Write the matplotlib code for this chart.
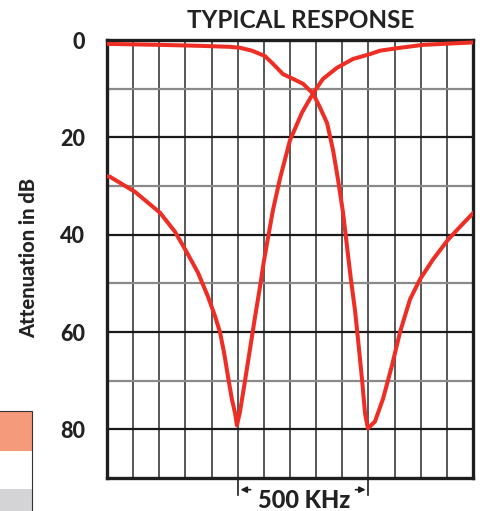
import matplotlib.pyplot as plt
from matplotlib.patches import Rectangle

# frequency in kHz (100 kHz per grid division), attenuation in dB
low_khz = [0, 11, 107, 203, 260, 306, 348, 386, 413, 432, 448, 463, 478,
           490, 497, 509, 528, 547, 566, 585, 600, 616, 635, 662, 700, 746,
           788, 826, 880, 941, 1006, 1044, 1121, 1209, 1400]
low_db = [28.0, 28.1, 31.2, 35.5, 39.4, 43.7, 47.8, 52.7, 56.7, 60, 64.3,
          69.2, 73.9, 76.7, 79.2, 76.3, 70, 63.5, 57, 50.8, 45.5, 40.6,
          34.9, 28.4, 20.6, 14.9, 11, 8, 5.7, 3.9, 2.9, 2.2, 1.6, 1.0, 0.5]

high_khz = [0, 203, 356, 470, 509, 555, 604, 635, 673, 712, 750, 788, 815,
            842, 865, 884, 903, 918, 933, 949, 960, 976, 987, 998, 1025,
            1056, 1090, 1121, 1159, 1197, 1247, 1305, 1350, 1400]
high_db = [0.8, 1.0, 1.2, 1.4, 1.6, 2.2, 3.3, 4.9, 7, 8, 9, 11, 13.9, 17.1,
           22.7, 28.8, 35.5, 42.4, 49.2, 55.7, 61.4, 70, 76.7, 79.8, 78.4,
           73.7, 66.9, 60, 53.3, 49.2, 45.1, 41, 38.4, 35.6]

db_ticks = [0, 20, 40, 60, 80]
span_start = 500
span_end = 1000

RED = "#ee2e24"
FONT = "Lato"

fig = plt.figure(figsize=(4.8, 5.11), dpi=100)
ax = fig.add_axes([107 / 480, 1 - 478 / 511, 366 / 480, 438 / 511])

# grid
for x in range(100, 1400, 100):
    ax.axvline(x, color="#2a2a2a", lw=1.1, zorder=1)
for y in range(10, 90, 10):
    if y % 20 == 0:
        ax.axhline(y, color="#1a1a1a", lw=1.6, zorder=1)
    else:
        ax.axhline(y, color="#8a8a8a", lw=1.6, zorder=1)

ax.plot(low_khz, low_db, color=RED, lw=2.9, solid_joinstyle="round",
        zorder=3)
ax.plot(high_khz, high_db, color=RED, lw=2.9, solid_joinstyle="round",
        zorder=3)

ax.set_xlim(0, 1400)
ax.set_ylim(90, 0)
ax.set_xticks([])
ax.set_yticks(db_ticks)
ax.set_yticklabels([str(t) for t in db_ticks], fontfamily=FONT,
                   fontweight="black", fontsize=15.5, color="#222222")
ax.tick_params(axis="y", length=0, pad=16)
for s in ax.spines.values():
    s.set_linewidth(2.4)
    s.set_color("#1e1e1e")

fig.text(301 / 480, 1 - 21 / 511, "TYPICAL RESPONSE", ha="center",
         va="center", fontfamily=FONT, fontweight="bold", fontsize=17.5,
         color="#222222")
fig.text(29 / 480, 1 - 258 / 511, "Attenuation in dB", rotation=90,
         rotation_mode="anchor", ha="center", va="center", fontfamily=FONT,
         fontweight="black", fontsize=14.5, color="#222222")

# 500 KHz span marker below the axis
for x in (span_start, span_end):
    ax.plot([x, x], [90, 93.5], color="#1e1e1e", lw=1.2, clip_on=False)
ax.annotate("", xy=(span_start, 92.4), xytext=(span_start + 60, 92.4),
            annotation_clip=False,
            arrowprops=dict(arrowstyle="-|>", color="#1e1e1e", lw=1.2,
                            mutation_scale=9))
ax.annotate("", xy=(span_end, 92.4), xytext=(span_end - 60, 92.4),
            annotation_clip=False,
            arrowprops=dict(arrowstyle="-|>", color="#1e1e1e", lw=1.2,
                            mutation_scale=9))
ax.text(754, 94.6, "500 KHz", ha="center", va="center", fontfamily=FONT,
        fontweight="black", fontsize=17, color="#222222", clip_on=False)

# piece of a neighbouring table at the lower left edge
h = 1 / 511
fig.patches.append(Rectangle((-0.01, 1 - 451 * h), 32 / 480 + 0.01, 40 * h,
                             transform=fig.transFigure, facecolor="#f59a7a",
                             edgecolor="none"))
fig.patches.append(Rectangle((-0.01, 0), 32 / 480 + 0.01, 22 * h,
                             transform=fig.transFigure, facecolor="#d4d4d6",
                             edgecolor="none"))
fig.patches.append(Rectangle((-0.01, -0.01), 32 / 480 + 0.01,
                             1 - 411 * h + 0.01, transform=fig.transFigure,
                             facecolor="none", edgecolor="#333333", lw=0.8))

fig.savefig("out.png", dpi=100)
